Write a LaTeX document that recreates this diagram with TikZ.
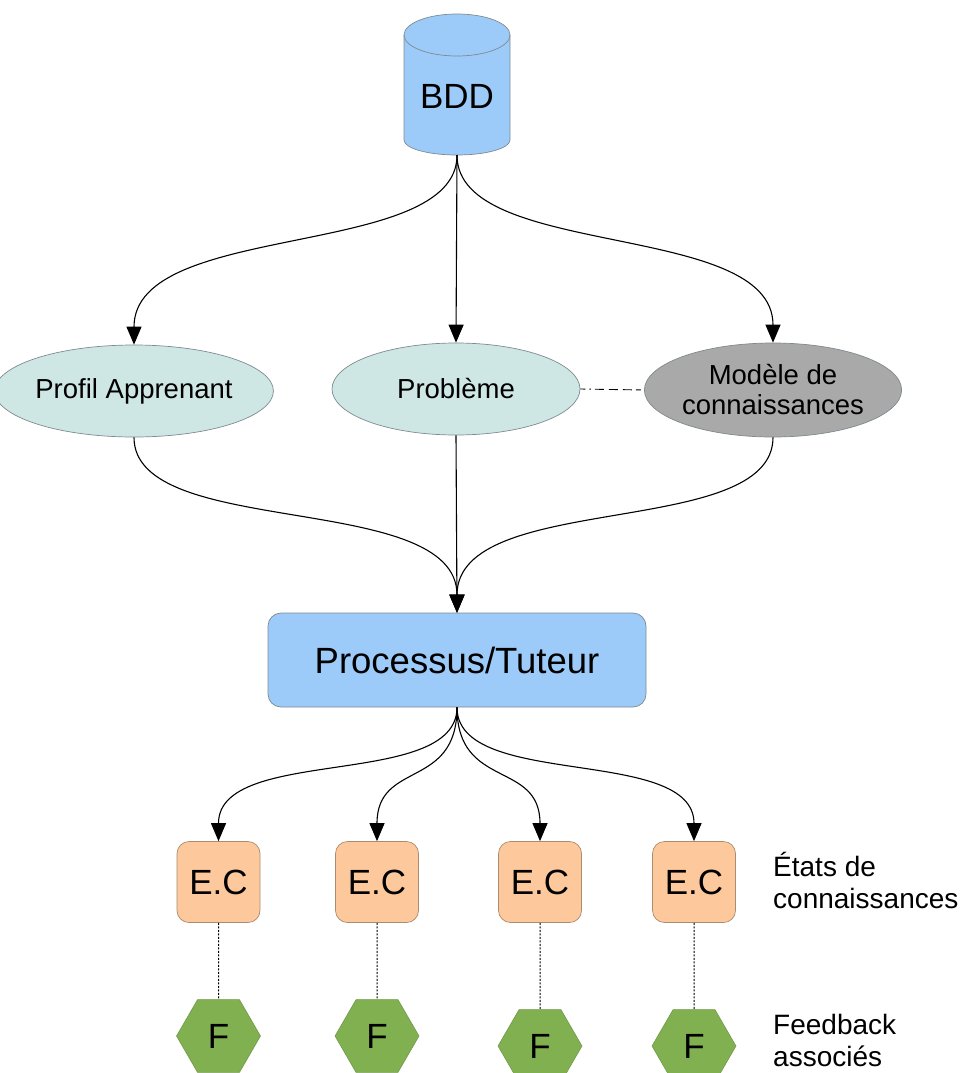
\documentclass[tikz,border=0pt]{standalone}
\usepackage{fontspec}
\setmainfont{Liberation Sans}
\usetikzlibrary{shapes.geometric,arrows.meta}
\definecolor{cblue}{HTML}{9DCBF9}
\definecolor{ccyan}{HTML}{CFE7E4}
\definecolor{cgray}{HTML}{A9A9A9}
\definecolor{corange}{HTML}{FDC99C}
\definecolor{cgreen}{HTML}{80B050}
\definecolor{cborder}{HTML}{7F8A90}
\begin{document}
\begin{tikzpicture}[x=1pt,y=1pt,
  conn/.style={line width=1.1pt,-{Triangle[length=18pt,width=15pt]}},
  oval/.style={ellipse,draw=cborder,line width=0.7pt,fill=ccyan,inner sep=0pt,minimum width=248pt,minimum height=92pt,font=\fontsize{27.5}{30}\selectfont,align=center},
  procbox/.style={rectangle,rounded corners=13pt,draw=cborder,line width=0.7pt,fill=cblue,minimum width=378pt,minimum height=94pt,font=\fontsize{36.5}{40}\selectfont},
  ecbox/.style={rectangle,rounded corners=12pt,draw={rgb,255:red,170;green,140;blue,110},line width=0.7pt,fill=corange,minimum width=83pt,minimum height=81pt,inner sep=0pt,font=\fontsize{35}{38}\selectfont},
  hexa/.style={regular polygon,regular polygon sides=6,minimum size=84pt,inner sep=0pt,fill=cgreen,draw={rgb,255:red,110;green,150;blue,70},line width=0.5pt,font=\fontsize{35}{38}\selectfont},
  side/.style={anchor=west,align=left,inner sep=0pt,font=\fontsize{28}{32}\selectfont},
  dotline/.style={line width=1pt,dash pattern=on 2pt off 1.5pt}
]
\useasboundingbox (0,0) rectangle (964,-1073);
% BDD cylinder
\fill[cblue] (404,-35) -- (404,-140) .. controls (404,-148.3) and (427.7,-155) .. (457,-155)
  .. controls (486.3,-155) and (510,-148.3) .. (510,-140) -- (510,-35) -- cycle;
\fill[cblue] (457,-35) ellipse (53 and 21);
\draw[cborder,line width=0.7pt] (404,-35) -- (404,-140) .. controls (404,-148.3) and (427.7,-155) .. (457,-155)
  .. controls (486.3,-155) and (510,-148.3) .. (510,-140) -- (510,-35);
\draw[cborder,line width=0.7pt] (457,-35) ellipse (53 and 21);
\node[minimum width=106pt,minimum height=142pt,inner sep=0pt] (bdd) at (457,-84) {};
\node[inner sep=0pt,font=\fontsize{35}{38}\selectfont] (bddt) at (457,-96) {BDD};
% ellipses
\node[oval] (pa) at (134,-391) {Profil Apprenant};
\node[oval] (pb) at (456,-389) {Problème};
\node[oval,fill=cgray,minimum width=247pt,minimum height=94pt] (mc) at (773,-390) {Modèle de\\connaissances};
% process
\node[procbox] (proc) at (457,-660) {Processus/Tuteur};
% E.C boxes
\node[ecbox] (ec1) at (218.5,-882) {E.C};
\node[ecbox] (ec2) at (377,-882) {E.C};
\node[ecbox] (ec3) at (540,-882) {E.C};
\node[ecbox] (ec4) at (694,-882) {E.C};
% hexagons
\node[hexa] (f1) at (218.5,-1036) {F};
\node[hexa] (f2) at (377,-1036) {F};
\node[hexa] (f3) at (540,-1046) {F};
\node[hexa] (f4) at (694,-1046) {F};
% side labels
\node[side] (lec) at (773,-880) {États de\\connaissances};
\node[side] (lf) at (773,-1040) {Feedback\\associés};
% connectors
\draw[conn] (bdd.south) .. controls (457,-260) and (134,-220) .. (pa.north);
\draw[conn] (bdd.south) -- (pb.north);
\draw[conn] (bdd.south) .. controls (457,-260) and (773,-220) .. (mc.north);
\draw[line width=0.9pt,dash pattern=on 5pt off 4pt on 1.5pt off 4pt on 9pt off 5pt on 9pt off 5pt on 9pt off 4pt] (pb.east) -- (mc.west);
\draw[conn] (pa.south) .. controls (134,-540) and (457,-490) .. (proc.north);
\draw[conn] (pb.south) -- (proc.north);
\draw[conn] (mc.south) .. controls (773,-540) and (457,-490) .. (proc.north);
\draw[conn] (proc.south) .. controls (457,-790) and (218.5,-745) .. (ec1.north);
\draw[conn] (proc.south) .. controls (457,-790) and (377,-760) .. (ec2.north);
\draw[conn] (proc.south) .. controls (457,-790) and (540,-760) .. (ec3.north);
\draw[conn] (proc.south) .. controls (457,-790) and (694,-745) .. (ec4.north);
\draw[dotline] (ec1.south) -- (f1.north);
\draw[dotline] (ec2.south) -- (f2.north);
\draw[dotline] (ec3.south) -- (f3.north);
\draw[dotline] (ec4.south) -- (f4.north);
\end{tikzpicture}
\end{document}
